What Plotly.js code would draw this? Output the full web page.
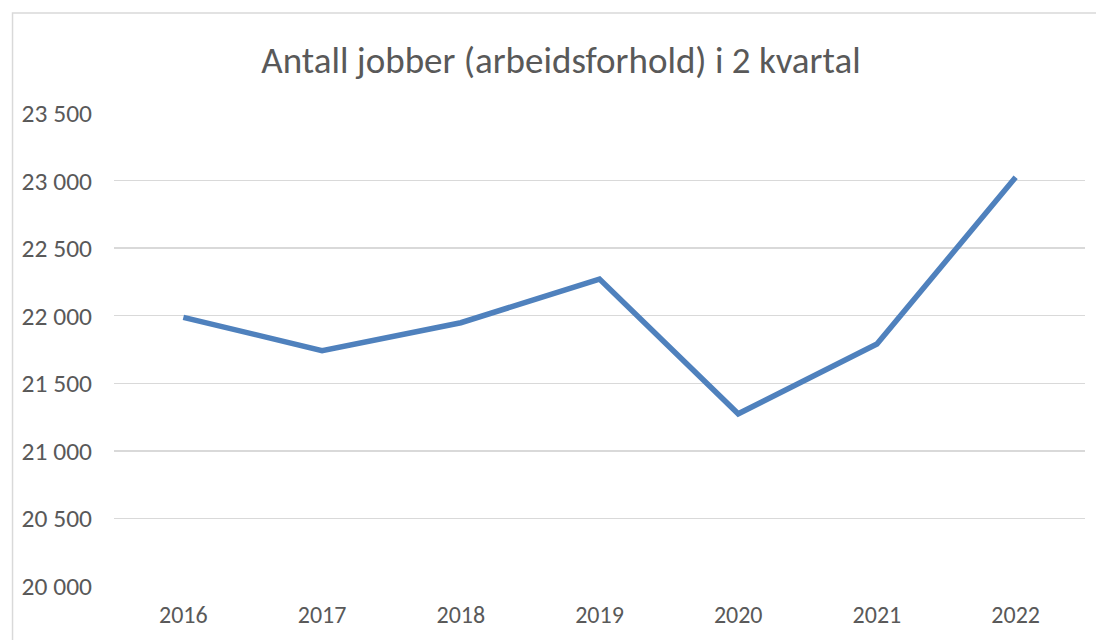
<!DOCTYPE html>
<html><head><meta charset="utf-8">
<script src="https://cdn.plot.ly/plotly-3.0.1.min.js"></script>
<style>html,body{margin:0;padding:0;background:#fff;}#chart{width:1096px;height:640px;}</style>
</head><body><div id="chart"></div>
<script>
const years = ['2016','2017','2018','2019','2020','2021','2022'];
const jobs = [21988, 21742, 21948, 22271, 21274, 21791, 23024];
const yTicks = [20000, 20500, 21000, 21500, 22000, 22500, 23000, 23500];
const yTickText = ['20 000','20 500','21 000','21 500','22 000','22 500','23 000','23 500'];
const titleText = 'Antall jobber (arbeidsforhold) i 2 kvartal';

const font = 'Carlito, Calibri, "Open Sans", "Noto Sans", sans-serif';
Plotly.newPlot('chart', [{
  x: years, y: jobs, type: 'scatter', mode: 'lines',
  line: {color: '#4f81bd', width: 5.5, shape: 'linear'},
  hoverinfo: 'x+y'
}], {
  width: 1096, height: 640,
  margin: {l: 114, r: 11, t: 113, b: 54, pad: 0},
  paper_bgcolor: '#fff', plot_bgcolor: '#fff',
  font: {family: font, color: '#595959', size: 24},
  title: {text: titleText, font: {family: font, size: 37, color: '#595959'},
          x: 561/1096, xanchor: 'center', xref: 'container', y: 1 - 60/640, yref: 'container', yanchor: 'middle'},
  xaxis: {type: 'category', range: [-0.5, 6.5], showgrid: false, zeroline: false, showline: false, ticks: '',
          ticklabelstandoff: 12, tickfont: {size: 24, color: '#595959'}, fixedrange: true},
  yaxis: {range: [20000, 23500], tickvals: yTicks, ticktext: yTickText, showgrid: true,
          gridcolor: '#d9d9d9', gridwidth: 1.5, zeroline: false, showline: false, ticks: '',
          ticklabelstandoff: 21, tickfont: {size: 25.5, color: '#595959'}, fixedrange: true},
  shapes: [{type: 'rect', xref: 'paper', yref: 'paper', x0: -0.1045, x1: 1.2, y0: -0.3, y1: 1.2115,
            line: {color: '#d9d9d9', width: 1.5}, fillcolor: 'rgba(0,0,0,0)', layer: 'below'}],
  showlegend: false
}, {displayModeBar: false, staticPlot: true});
</script></body></html>
